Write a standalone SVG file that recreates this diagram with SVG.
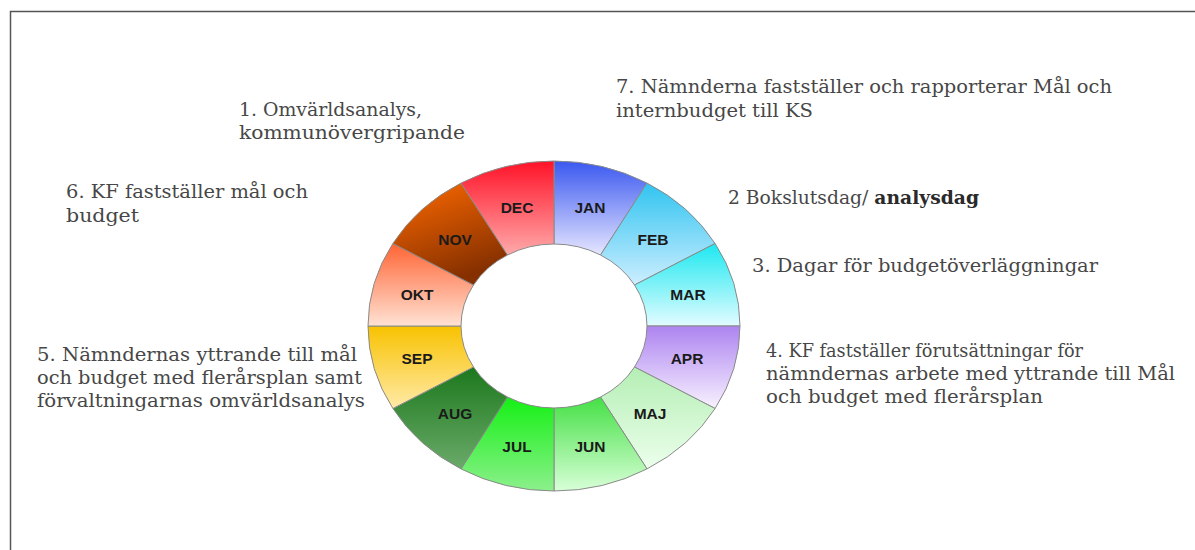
<svg xmlns="http://www.w3.org/2000/svg" width="1195" height="550" viewBox="0 0 1195 550">
<style>
.seg{stroke:#8a8a8a;stroke-width:1}
.m{font-family:"Liberation Sans",Arial,sans-serif;font-weight:bold;font-size:15.5px;fill:#1a1a1a;text-anchor:middle}
.t{font-family:"DejaVu Serif","Liberation Serif",serif;font-size:18px;fill:#474747}
.b{font-weight:bold;fill:#2a2a2a}
</style>
<defs>
<linearGradient id="gJAN" x1="0" y1="0" x2="0" y2="1"><stop offset="0" stop-color="#3a58f0"/><stop offset="1" stop-color="#e6e6ff"/></linearGradient>
<linearGradient id="gFEB" x1="0" y1="0" x2="0" y2="1"><stop offset="0" stop-color="#30c4f0"/><stop offset="1" stop-color="#cdeeff"/></linearGradient>
<linearGradient id="gMAR" x1="0" y1="0" x2="0" y2="1"><stop offset="0" stop-color="#1ce8f0"/><stop offset="1" stop-color="#e2fcff"/></linearGradient>
<linearGradient id="gAPR" x1="0" y1="0" x2="0" y2="1"><stop offset="0" stop-color="#ad84f0"/><stop offset="1" stop-color="#f8f2ff"/></linearGradient>
<linearGradient id="gMAJ" x1="0" y1="0" x2="0" y2="1"><stop offset="0" stop-color="#b4eeb4"/><stop offset="1" stop-color="#ecffec"/></linearGradient>
<linearGradient id="gJUN" x1="0" y1="0" x2="0" y2="1"><stop offset="0" stop-color="#44e044"/><stop offset="1" stop-color="#d8ffd8"/></linearGradient>
<linearGradient id="gJUL" x1="0" y1="0" x2="0" y2="1"><stop offset="0" stop-color="#14f014"/><stop offset="1" stop-color="#8cf08c"/></linearGradient>
<linearGradient id="gAUG" x1="0" y1="0" x2="0" y2="1"><stop offset="0" stop-color="#1c781c"/><stop offset="1" stop-color="#6aaa6a"/></linearGradient>
<linearGradient id="gSEP" x1="0" y1="0" x2="0" y2="1"><stop offset="0" stop-color="#f8c200"/><stop offset="1" stop-color="#ffeaa8"/></linearGradient>
<linearGradient id="gOKT" x1="0" y1="0" x2="0" y2="1"><stop offset="0" stop-color="#ff6434"/><stop offset="1" stop-color="#ffe2d4"/></linearGradient>
<linearGradient id="gNOV" x1="0" y1="0" x2="0.4" y2="1"><stop offset="0" stop-color="#ff6a00"/><stop offset="1" stop-color="#863000"/></linearGradient>
<linearGradient id="gDEC" x1="0" y1="0" x2="0" y2="1"><stop offset="0" stop-color="#ff1228"/><stop offset="1" stop-color="#ffaaaa"/></linearGradient>
</defs>
<rect width="1195" height="550" fill="#ffffff"/>
<g id="frame" stroke="#555" stroke-width="1.5" fill="none">
<path d="M1195 11.5 H10.5 V550"/>
</g>
<g id="wheel">
<g id="JAN"><path class="seg" fill="url(#gJAN)" d="M554 161 A186 165 0 0 1 647 183.1 L600.5 255 A93 82 0 0 0 554 244 Z"/><text class="m" x="590" y="213">JAN</text></g>
<g id="FEB"><path class="seg" fill="url(#gFEB)" d="M647 183.1 A186 165 0 0 1 715.1 243.5 L634.5 285 A93 82 0 0 0 600.5 255 Z"/><text class="m" x="653" y="245">FEB</text></g>
<g id="MAR"><path class="seg" fill="url(#gMAR)" d="M715.1 243.5 A186 165 0 0 1 740 326 L647 326 A93 82 0 0 0 634.5 285 Z"/><text class="m" x="688" y="300">MAR</text></g>
<g id="APR"><path class="seg" fill="url(#gAPR)" d="M740 326 A186 165 0 0 1 715.1 408.5 L634.5 367 A93 82 0 0 0 647 326 Z"/><text class="m" x="687" y="364">APR</text></g>
<g id="MAJ"><path class="seg" fill="url(#gMAJ)" d="M715.1 408.5 A186 165 0 0 1 647 468.9 L600.5 397 A93 82 0 0 0 634.5 367 Z"/><text class="m" x="650" y="419">MAJ</text></g>
<g id="JUN"><path class="seg" fill="url(#gJUN)" d="M647 468.9 A186 165 0 0 1 554 491 L554 408 A93 82 0 0 0 600.5 397 Z"/><text class="m" x="590" y="452">JUN</text></g>
<g id="JUL"><path class="seg" fill="url(#gJUL)" d="M554 491 A186 165 0 0 1 461 468.9 L507.5 397 A93 82 0 0 0 554 408 Z"/><text class="m" x="517" y="452">JUL</text></g>
<g id="AUG"><path class="seg" fill="url(#gAUG)" d="M461 468.9 A186 165 0 0 1 392.9 408.5 L473.5 367 A93 82 0 0 0 507.5 397 Z"/><text class="m" x="455" y="419">AUG</text></g>
<g id="SEP"><path class="seg" fill="url(#gSEP)" d="M392.9 408.5 A186 165 0 0 1 368 326 L461 326 A93 82 0 0 0 473.5 367 Z"/><text class="m" x="417" y="364">SEP</text></g>
<g id="OKT"><path class="seg" fill="url(#gOKT)" d="M368 326 A186 165 0 0 1 392.9 243.5 L473.5 285 A93 82 0 0 0 461 326 Z"/><text class="m" x="417" y="300">OKT</text></g>
<g id="NOV"><path class="seg" fill="url(#gNOV)" d="M392.9 243.5 A186 165 0 0 1 461 183.1 L507.5 255 A93 82 0 0 0 473.5 285 Z"/><text class="m" x="455" y="245">NOV</text></g>
<g id="DEC"><path class="seg" fill="url(#gDEC)" d="M461 183.1 A186 165 0 0 1 554 161 L554 244 A93 82 0 0 0 507.5 255 Z"/><text class="m" x="517" y="213">DEC</text></g>
</g>
<g id="note7"><text class="t" x="616" y="93" textLength="496" lengthAdjust="spacingAndGlyphs">7. Nämnderna fastställer och rapporterar Mål och</text><text class="t" x="616" y="117" textLength="197" lengthAdjust="spacingAndGlyphs">internbudget till KS</text></g>
<g id="note1"><text class="t" x="239" y="116" textLength="183" lengthAdjust="spacingAndGlyphs">1. Omvärldsanalys,</text><text class="t" x="239" y="139" textLength="226" lengthAdjust="spacingAndGlyphs">kommunövergripande</text></g>
<g id="note6"><text class="t" x="66" y="198" textLength="242" lengthAdjust="spacingAndGlyphs">6. KF fastställer mål och</text><text class="t" x="66" y="222" textLength="73" lengthAdjust="spacingAndGlyphs">budget</text></g>
<g id="note2"><text class="t" x="728" y="204" textLength="251" lengthAdjust="spacingAndGlyphs">2 Bokslutsdag/ <tspan class="b">analysdag</tspan></text></g>
<g id="note3"><text class="t" x="752" y="272" textLength="346" lengthAdjust="spacingAndGlyphs">3. Dagar för budgetöverläggningar</text></g>
<g id="note4"><text class="t" x="766" y="357" textLength="317" lengthAdjust="spacingAndGlyphs">4. KF fastställer förutsättningar för</text><text class="t" x="766" y="380" textLength="409" lengthAdjust="spacingAndGlyphs">nämndernas arbete med yttrande till Mål</text><text class="t" x="766" y="403" textLength="277" lengthAdjust="spacingAndGlyphs">och budget med flerårsplan</text></g>
<g id="note5"><text class="t" x="37" y="361" textLength="320" lengthAdjust="spacingAndGlyphs">5. Nämndernas yttrande till mål</text><text class="t" x="37" y="384" textLength="325" lengthAdjust="spacingAndGlyphs">och budget med flerårsplan samt</text><text class="t" x="37" y="407" textLength="328" lengthAdjust="spacingAndGlyphs">förvaltningarnas omvärldsanalys</text></g>
</svg>
